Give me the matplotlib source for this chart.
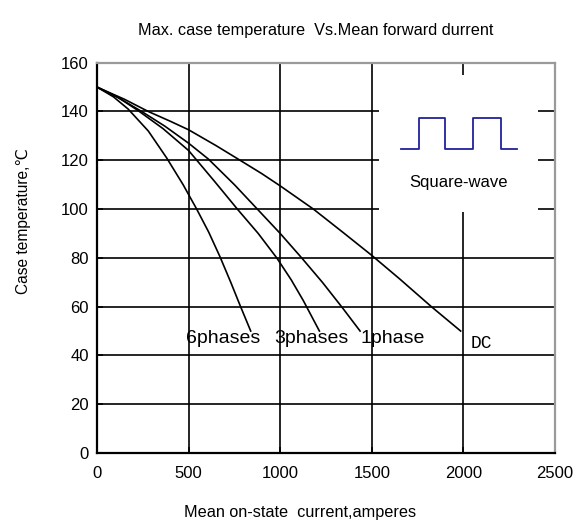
import matplotlib
matplotlib.use("Agg")
import matplotlib.pyplot as plt
from matplotlib.patches import Rectangle

# ---- data ----
dc_x = [0, 150, 280, 400, 500, 650, 781, 900, 1000, 1181, 1350, 1500, 1650, 1825, 1985]
dc_y = [150, 145, 140, 136, 132.5, 126, 120, 114.5, 109.5, 100, 90, 81, 71.5, 60, 50]

ph1_x = [0, 120, 244, 370, 500, 608, 750, 875, 1000, 1117, 1230, 1340, 1436]
ph1_y = [150, 145.5, 140, 134, 127, 120.5, 110, 100, 90, 80, 70, 59.5, 50]

ph3_x = [0, 110, 222, 360, 500, 640, 766, 880, 981, 1060, 1126, 1214]
ph3_y = [150, 146, 140.5, 133, 124, 111.5, 100, 90, 80, 71, 62.5, 50]

ph6_x = [0, 90, 170, 280, 380, 470, 544, 610, 671, 730, 781, 839]
ph6_y = [150, 146, 141, 132, 121, 110, 100, 90.5, 80.5, 70, 60.5, 50]

labels = ["6phases", "3phases", "1phase", "DC"]
label_x = [486, 966, 1441, 2042]
label_y = [47, 47, 47, 45]

sq_x = [1659, 1758, 1758, 1900, 1900, 2053, 2053, 2205, 2205, 2293]
sq_y = [124.6, 124.6, 137.3, 137.3, 124.6, 124.6, 137.3, 137.3, 124.6, 124.6]

x_ticks = [0, 500, 1000, 1500, 2000, 2500]
y_ticks = [0, 20, 40, 60, 80, 100, 120, 140, 160]

REG = ["Liberation Sans", "DejaVu Sans"]
MONO = ["Liberation Mono", "DejaVu Sans Mono"]

fig = plt.figure(figsize=(5.84, 5.21), dpi=100)
ax = fig.add_axes([97/584, 1-453/521, (555-97)/584, (453-62.7)/521])

ax.set_xlim(0, 2500)
ax.set_ylim(0, 160)
ax.set_xticks(x_ticks)
ax.set_yticks(y_ticks)
ax.set_xticklabels([str(v) for v in x_ticks], family=REG, fontsize=12)
ax.set_yticklabels([str(v) for v in y_ticks], family=REG, fontsize=12)
ax.tick_params(direction="in", length=4, width=1.2, pad=6, colors="black")
ax.tick_params(axis="x", pad=9)

ax.grid(True, color="black", linewidth=1.2, zorder=1)
ax.set_axisbelow(True)

for s in ["left", "bottom"]:
    ax.spines[s].set_linewidth(1.6)
    ax.spines[s].set_color("black")
for s in ["top", "right"]:
    ax.spines[s].set_linewidth(1.6)
    ax.spines[s].set_color("#9a9a9a")

# white inset box covering grid
ax.add_patch(Rectangle((1540, 99), 865, 56, facecolor="white", edgecolor="none", zorder=2))
ax.plot(sq_x, sq_y, color="#22229a", linewidth=1.3, zorder=3)
ax.text(1976, 110.7, "Square-wave", ha="center", va="center", family=REG, fontsize=12, zorder=3)

for xs, ys in [(dc_x, dc_y), (ph1_x, ph1_y), (ph3_x, ph3_y), (ph6_x, ph6_y)]:
    ax.plot(xs, ys, color="black", linewidth=1.2, zorder=3)

for t, lx, ly in zip(labels, label_x, label_y):
    if t == "DC":
        ax.text(lx, ly, t, ha="left", va="center", family=MONO, fontsize=13, zorder=4)
    else:
        ax.text(lx, ly, t, ha="left", va="center", family=REG, fontsize=14, zorder=4)

fig.text(316/584, 1-30/521, "Max. case temperature  Vs.Mean forward durrent",
         ha="center", va="center", family=REG, fontsize=11.7)
fig.text(300/584, 1-513/521, "Mean on-state  current,amperes",
         ha="center", va="center", family=REG, fontsize=11.7)
fig.text(24/584, 1-221/521, "Case temperature,\u2103", rotation=90,
         ha="center", va="center", family=REG, fontsize=11.2)

fig.savefig("out.png", dpi=100, facecolor="white")
